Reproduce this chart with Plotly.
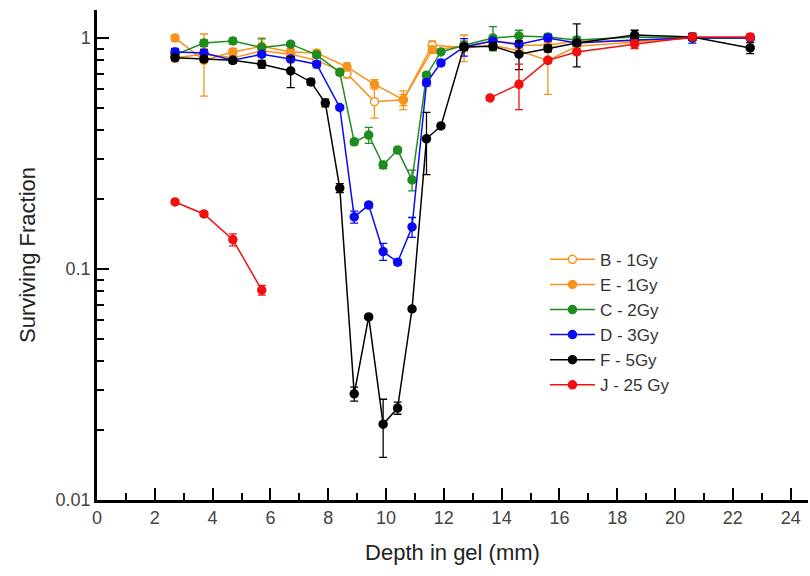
import plotly.graph_objects as go

# Depth (mm) and surviving fraction for each irradiation
x_B = [2.7, 3.7, 4.7, 5.7, 6.7, 7.6, 8.65, 9.6, 10.6, 11.6, 12.7, 13.7, 14.6, 15.6, 16.6, 18.6, 20.6, 22.6]
y_B = [0.82, 0.85, 0.82, 0.88, 0.85, 0.80, 0.70, 0.53, 0.54, 0.93, 0.91, 0.93, 0.88, 0.80, 0.92, 0.96, 1.0, 1.0]
e_B = [0.03, 0.05, 0.03, 0.03, 0.03, 0.06, 0.03, 0.08, 0.03, 0.04, 0.12, 0.03, 0.05, 0.23, 0.03, 0.03, 0.02, 0.02]

x_E = [2.7, 3.7, 4.7, 5.7, 6.7, 7.6, 8.65, 9.6, 10.6, 11.6, 12.7, 13.7, 14.6, 15.6, 16.6, 18.6, 20.6, 22.6]
y_E = [1.0, 0.80, 0.87, 0.92, 0.87, 0.86, 0.75, 0.63, 0.54, 0.89, 0.92, 0.97, 0.93, 0.93, 0.97, 0.97, 1.0, 1.0]
e_E = [0.03, 0.24, 0.03, 0.08, 0.03, 0.03, 0.03, 0.03, 0.05, 0.03, 0.05, 0.03, 0.03, 0.05, 0.03, 0.03, 0.02, 0.02]

x_C = [2.7, 3.7, 4.7, 5.7, 6.7, 7.6, 8.4, 8.9, 9.4, 9.9, 10.4, 10.9, 11.4, 11.9, 12.7, 13.7, 14.6, 15.6, 16.6, 18.6, 20.6, 22.6]
y_C = [0.845, 0.95, 0.97, 0.91, 0.94, 0.845, 0.71, 0.355, 0.38, 0.282, 0.327, 0.243, 0.69, 0.87, 0.93, 1.0, 1.02, 1.01, 0.98, 1.01, 1.0, 1.0]
e_C = [0.02, 0.03, 0.03, 0.08, 0.02, 0.02, 0.02, 0.01, 0.03, 0.01, 0.01, 0.025, 0.02, 0.02, 0.03, 0.12, 0.06, 0.03, 0.03, 0.03, 0.02, 0.02]

x_D = [2.7, 3.7, 4.7, 5.7, 6.7, 7.6, 8.4, 8.9, 9.4, 9.9, 10.4, 10.9, 11.4, 11.9, 12.7, 13.7, 14.6, 15.6, 16.6, 18.6, 20.6, 22.6]
y_D = [0.87, 0.86, 0.80, 0.85, 0.81, 0.77, 0.50, 0.168, 0.189, 0.119, 0.107, 0.152, 0.64, 0.78, 0.914, 0.97, 0.94, 1.0, 0.95, 0.98, 1.0, 1.0]
e_D = [0.03, 0.03, 0.02, 0.02, 0.02, 0.02, 0.01, 0.01, 0.005, 0.01, 0.003, 0.015, 0.02, 0.02, 0.08, 0.02, 0.02, 0.03, 0.02, 0.03, 0.05, 0.02]

x_F = [2.7, 3.7, 4.7, 5.7, 6.7, 7.4, 7.9, 8.4, 8.9, 9.4, 9.9, 10.4, 10.9, 11.4, 11.9, 12.7, 13.7, 14.6, 15.6, 16.6, 18.6, 20.6, 22.6]
y_F = [0.82, 0.81, 0.80, 0.77, 0.72, 0.645, 0.523, 0.224, 0.0288, 0.062, 0.0213, 0.025, 0.0671, 0.366, 0.416, 0.914, 0.92, 0.85, 0.90, 0.95, 1.03, 1.01, 0.905]
e_F = [0.02, 0.02, 0.02, 0.03, 0.11, 0.02, 0.02, 0.01, 0.002, 0.001, 0.006, 0.0015, 0.001, 0.11, 0.01, 0.03, 0.03, 0.12, 0.03, 0.2, 0.05, 0.03, 0.05]

# J - 25 Gy: two separate runs, broken by None
x_J = [2.7, 3.7, 4.7, 5.7, None, 13.6, 14.6, 15.6, 16.6, 18.6, 20.6, 22.6]
y_J = [0.195, 0.173, 0.134, 0.081, None, 0.55, 0.63, 0.80, 0.87, 0.94, 1.01, 1.01]
e_J = [0.003, 0.003, 0.008, 0.004, None, 0.01, 0.14, 0.02, 0.02, 0.04, 0.02, 0.03]

ORANGE = "#F7941D"
GREEN = "#1E8C1E"
BLUE = "#0A0AF5"
BLACK = "#000000"
RED = "#F01010"

series = [
    ("B - 1Gy", x_B, y_B, e_B, ORANGE, "white"),
    ("E - 1Gy", x_E, y_E, e_E, ORANGE, ORANGE),
    ("C - 2Gy", x_C, y_C, e_C, GREEN, GREEN),
    ("D - 3Gy", x_D, y_D, e_D, BLUE, BLUE),
    ("F - 5Gy", x_F, y_F, e_F, BLACK, BLACK),
    ("J - 25 Gy", x_J, y_J, e_J, RED, RED),
]

fig = go.Figure()
for name, xs, ys, es, col, fill in series:
    fig.add_trace(go.Scatter(
        x=xs, y=ys, name=name, mode="lines+markers",
        line=dict(color=col, width=1.5),
        marker=dict(symbol="circle", size=8, color=fill, line=dict(color=col, width=1.5)),
        error_y=dict(type="data", array=es, visible=True, color=col, thickness=1.3, width=4),
        connectgaps=False,
    ))

minor_y = [m * 10 ** p for p in (-2, -1, 0) for m in range(2, 10)]

fig.update_layout(
    width=810, height=576,
    margin=dict(l=97, r=2, t=10, b=76),
    paper_bgcolor="white", plot_bgcolor="white",
    font=dict(family="Liberation Sans, Arial, sans-serif", color="#333333"),
    showlegend=True,
    legend=dict(x=0.63, y=0.527, xanchor="left", yanchor="top",
                font=dict(size=17, color="#333333"), itemwidth=45,
                bgcolor="rgba(0,0,0,0)", tracegroupgap=0),
    xaxis=dict(
        range=[0, 24.6], tickvals=list(range(0, 25, 2)),
        ticks="inside", ticklen=12, tickwidth=2, tickcolor="black",
        showline=True, linecolor="black", linewidth=2.5,
        showgrid=False, zeroline=False,
        tickfont=dict(size=18, color="#444444"),
        minor=dict(tickvals=list(range(1, 25, 2)), ticks="inside", ticklen=7, tickwidth=2, tickcolor="black"),
        title=dict(text="Depth in gel (mm)", font=dict(size=22, color="#222222"), standoff=18),
    ),
    yaxis=dict(
        type="log", range=[-2, 0.121],
        tickvals=[0.01, 0.1, 1], ticktext=["0.01", "0.1", "1"],
        ticks="inside", ticklen=12, tickwidth=2, tickcolor="black",
        showline=True, linecolor="black", linewidth=2.5,
        showgrid=False, zeroline=False,
        tickfont=dict(size=18, color="#444444"),
        minor=dict(tickvals=minor_y, ticks="inside", ticklen=7, tickwidth=2, tickcolor="black"),
        title=dict(text="Surviving Fraction", font=dict(size=22, color="#222222"), standoff=14),
    ),
)

fig.write_html("out.html")
